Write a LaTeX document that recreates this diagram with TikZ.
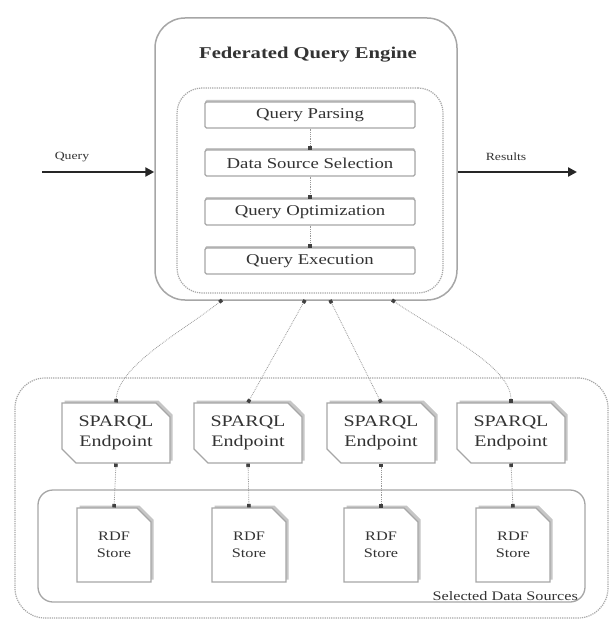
\documentclass[tikz,border=0pt]{standalone}
\usepackage{fontspec}
\setmainfont{Liberation Serif}[FakeStretch=1.25]
\usetikzlibrary{arrows.meta,shapes.misc,shadows}
\begin{document}
\begin{tikzpicture}[x=1pt,y=-1pt,
 every node/.style={text=black!80},
 frame/.style={draw=gray!70, line width=1.5pt, rounded corners=30pt},
 dotbox/.style={draw=gray!70, densely dotted, line width=1.2pt},
 proc/.style={draw=gray!70, line width=1.2pt, rounded corners=1.5pt, fill=white,
   minimum width=210pt, minimum height=26pt, inner sep=0pt, font=\fontsize{15}{17}\selectfont,
   drop shadow={shadow xshift=0pt, shadow yshift=2pt, fill=gray!45, opacity=1}},
 endpoint/.style={chamfered rectangle, chamfered rectangle corners={north east,south west},
   chamfered rectangle xsep=7pt, chamfered rectangle ysep=7pt, draw=gray!70, line width=1.1pt,
   fill=white, minimum width=108pt, minimum height=60pt, inner sep=0pt, align=center,
   font=\fontsize{16}{20}\selectfont,
   drop shadow={shadow xshift=2.5pt, shadow yshift=2.5pt, fill=gray!45, opacity=1}},
 store/.style={chamfered rectangle, chamfered rectangle corners=north east,
   chamfered rectangle xsep=7pt, chamfered rectangle ysep=7pt, draw=gray!70, line width=1.1pt,
   fill=white, minimum width=74pt, minimum height=74pt, inner sep=0pt, align=center,
   font=\fontsize{13}{17}\selectfont,
   drop shadow={shadow xshift=2.5pt, shadow yshift=2.5pt, fill=gray!45, opacity=1}},
 link/.style={draw=gray!80, densely dotted, line width=0.8pt,
   {Square[length=3.5pt,width=3.5pt,color=black!75]}-{Square[length=3.5pt,width=3.5pt,color=black!75]}},
 flow/.style={draw=gray!80, densely dotted, line width=0.8pt,
   -{Square[length=3.5pt,width=3.5pt,color=black!75]}},
 big/.style={draw=black!85, line width=2.8pt, -{Triangle[length=9pt,width=9pt]}}
]
\fill[white] (0,0) rectangle (613,623);
\useasboundingbox (0,0) rectangle (613,623);

% engine
\node[frame, minimum width=302pt, minimum height=282pt] (engine) at (306,159) {};
\node[font=\bfseries\fontsize{16.5}{19}\selectfont] (title) at (308,55) {Federated Query Engine};
\node[dotbox, rounded corners=25pt, minimum width=266pt, minimum height=205pt] (inner) at (310,190.5) {};
\node[proc] (p1) at (310,115) {Query Parsing};
\node[proc] (p2) at (310,163) {Data Source Selection};
\node[proc] (p3) at (310,212) {Query Optimization};
\node[proc] (p4) at (310,261) {Query Execution};
\draw[flow] (p1) -- (p2);
\draw[flow] (p2) -- (p3);
\draw[flow] (p3) -- (p4);

% query / results
\coordinate (qin) at (42,172);
\coordinate (rout) at (577,172);
\draw[big] (qin) -- (qin -| engine.west);
\draw[big] (qin -| engine.east) -- (rout);
\node[font=\fontsize{11}{13}\selectfont] (ql) at (72,157) {Query};
\node[font=\fontsize{11}{13}\selectfont] (rl) at (506,157) {Results};

% sources
\node[dotbox, rounded corners=30pt, minimum width=593pt, minimum height=240pt] (sources) at (311.5,498) {};
\node[draw=gray!70, line width=1.3pt, rounded corners=15pt, minimum width=547pt, minimum height=112pt] (storebox) at (311.5,546) {};
\node[font=\fontsize{13}{15}\selectfont, anchor=south east, inner sep=1pt] (lbl) at (579,602) {Selected Data Sources};

\node[endpoint] (s1) at (116,433) {SPARQL\\Endpoint};
\node[endpoint] (s2) at (248,433) {SPARQL\\Endpoint};
\node[endpoint] (s3) at (381,433) {SPARQL\\Endpoint};
\node[endpoint] (s4) at (511,433) {SPARQL\\Endpoint};

\node[store] (r1) at (114,545) {RDF\\Store};
\node[store] (r2) at (249,545) {RDF\\Store};
\node[store] (r3) at (381,545) {RDF\\Store};
\node[store] (r4) at (513,545) {RDF\\Store};

\coordinate (e1) at (222,300);
\coordinate (e2) at (305,300);
\coordinate (e3) at (330,300);
\coordinate (e4) at (392,300);

\draw[link] (e1) .. controls (185,330) and (118,365) .. (s1.north);
\draw[link] (e2) -- (s2.north);
\draw[link] (e3) -- (s3.north);
\draw[link] (e4) .. controls (435,330) and (511,365) .. (s4.north);

\draw[link] (s1.south) -- (r1.north);
\draw[link] (s2.south) -- (r2.north);
\draw[link] (s3.south) -- (r3.north);
\draw[link] (s4.south) -- (r4.north);
\end{tikzpicture}
\end{document}
